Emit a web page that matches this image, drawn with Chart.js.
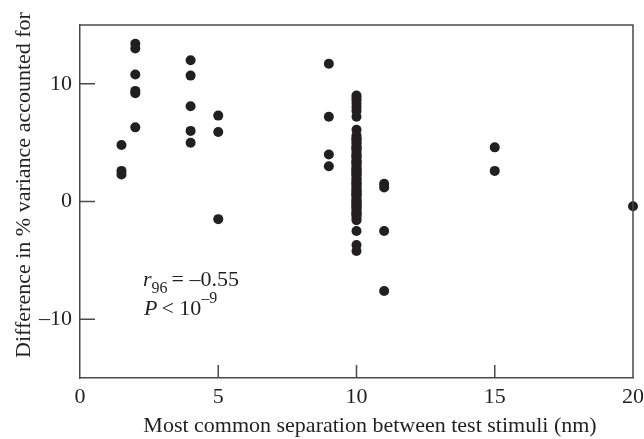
<!DOCTYPE html>
<html>
<head>
<meta charset="utf-8">
<script src="https://cdn.jsdelivr.net/npm/chart.js@4.4.1/dist/chart.umd.min.js"></script>
<style>
  html, body { margin: 0; padding: 0; background: #fff; }
  #chart { display: block; }
</style>
</head>
<body>
<canvas id="chart" width="644" height="439"></canvas>
<script>
// separation (nm) -> differences in % variance accounted for
const sep1_5 = [4.8, 2.6, 2.3];
const sep2 = [13.4, 13.0, 10.8, 9.4, 9.2, 6.3];
const sep4 = [12.0, 10.7, 8.1, 6.0, 5.0];
const sep5 = [7.3, 5.9, -1.5];
const sep9 = [11.7, 7.2, 4.0, 3.0];
const sep10 = [
  9.0, 8.8, 8.6, 8.3, 8.0, 7.7, 7.2, 6.1, 5.6, 5.4, 5.3, 5.2, 5.0, 4.9,
  4.7, 4.6, 4.5, 4.4, 4.2, 4.0, 3.9, 3.8, 3.7, 3.5, 3.4, 3.3, 3.2, 3.1,
  2.9, 2.8, 2.7, 2.6, 2.5, 2.4, 2.3, 2.2, 2.0, 1.9, 1.7, 1.6, 1.5, 1.4,
  1.3, 1.1, 1.0, 0.9, 0.8, 0.7, 0.6, 0.5, 0.4, 0.2, 0.1, 0.0, -0.1, -0.2,
  -0.3, -0.4, -0.5, -0.6, -0.8, -0.9, -1.0, -1.1, -1.2, -1.4, -1.6, -2.5,
  -3.7, -4.2
];
const sep11 = [1.5, 1.2, -2.5, -7.6];
const sep15 = [4.6, 2.6];
const sep20 = [-0.4];

const groups = [
  [1.5, sep1_5], [2, sep2], [4, sep4], [5, sep5], [9, sep9],
  [10, sep10], [11, sep11], [15, sep15], [20, sep20]
];

const xTicks = [0, 5, 10, 15, 20];
const yTicks = [-10, 0, 10];

const xTitle = 'Most common separation between test stimuli (nm)';
const yTitle = 'Difference in % variance accounted for';

const points = [];
groups.forEach(([sep, vals]) => {
  vals.forEach(v => points.push({ x: sep, y: v }));
});

const serif = '"Liberation Serif", "DejaVu Serif", serif';
const axisColor = '#4a4a4a';
const inkColor = '#231f20';
const fontSize = 22;

// box, inward tick marks, axis titles and the r/P annotation
const framePlugin = {
  id: 'frame',
  afterDraw(chart) {
    const ctx = chart.ctx;
    const a = chart.chartArea;
    const xs = chart.scales.x, ys = chart.scales.y;
    ctx.save();
    ctx.strokeStyle = axisColor;
    ctx.lineWidth = 1.5;
    ctx.beginPath();
    ctx.moveTo(a.left, a.top); ctx.lineTo(a.right, a.top);
    ctx.lineTo(a.right, a.bottom);
    ctx.stroke();

    ctx.beginPath();
    xTicks.forEach(v => {
      const px = xs.getPixelForValue(v);
      if (v > 0 && v < 20) { ctx.moveTo(px, a.bottom); ctx.lineTo(px, a.bottom - 13); }
    });
    yTicks.forEach(v => {
      const py = ys.getPixelForValue(v);
      ctx.moveTo(a.left, py); ctx.lineTo(a.left + 15, py);
    });
    ctx.stroke();

    ctx.fillStyle = inkColor;
    ctx.font = fontSize + 'px ' + serif;
    ctx.textAlign = 'center';
    ctx.textBaseline = 'alphabetic';
    ctx.fillText(xTitle, 370, 432);

    ctx.save();
    ctx.translate(30, 185);
    ctx.rotate(-Math.PI / 2);
    ctx.fillText(yTitle, 0, 0);
    ctx.restore();

    // r96 = –0.55
    ctx.textAlign = 'left';
    let x = 143;
    ctx.font = 'italic ' + fontSize + 'px ' + serif;
    ctx.fillText('r', x, 286);
    x += ctx.measureText('r').width;
    ctx.font = '16px ' + serif;
    ctx.fillText('96', x, 293);
    x += ctx.measureText('96').width + 4;
    ctx.font = fontSize + 'px ' + serif;
    ctx.fillText('= \u20130.55', x, 286);

    // P < 10^-9
    x = 144;
    ctx.font = 'italic ' + fontSize + 'px ' + serif;
    ctx.fillText('P', x, 315);
    x += ctx.measureText('P').width + 4;
    ctx.font = fontSize + 'px ' + serif;
    ctx.fillText('< 10', x, 315);
    x += ctx.measureText('< 10').width;
    ctx.font = '16px ' + serif;
    ctx.fillText('\u20139', x, 303);
    ctx.restore();
  }
};

new Chart(document.getElementById('chart'), {
  type: 'scatter',
  data: {
    datasets: [{
      data: points,
      backgroundColor: inkColor,
      borderColor: inkColor,
      pointRadius: 5,
      pointHoverRadius: 5,
      borderWidth: 0
    }]
  },
  options: {
    responsive: false,
    animation: false,
    devicePixelRatio: 1,
    clip: false,
    layout: { padding: { top: 25, right: 11, left: 0, bottom: 0 } },
    plugins: { legend: { display: false }, tooltip: { enabled: false } },
    scales: {
      x: {
        type: 'linear',
        min: 0,
        max: 20,
        afterBuildTicks: s => { s.ticks = xTicks.map(v => ({ value: v })); },
        afterFit: s => { s.height = 61; s.paddingLeft = 0; s.paddingRight = 0; },
        ticks: { color: inkColor, font: { family: serif, size: fontSize }, padding: 6 },
        grid: { drawOnChartArea: false, drawTicks: false },
        border: { color: axisColor, width: 1.5 }
      },
      y: {
        type: 'linear',
        min: -15,
        max: 15,
        afterBuildTicks: s => { s.ticks = yTicks.map(v => ({ value: v })); },
        afterFit: s => { s.width = 80; s.paddingTop = 0; s.paddingBottom = 0; },
        ticks: {
          color: inkColor,
          font: { family: serif, size: fontSize },
          padding: 8,
          callback: v => v < 0 ? '\u2013' + Math.abs(v) : String(v)
        },
        grid: { drawOnChartArea: false, drawTicks: false },
        border: { color: axisColor, width: 1.5 }
      }
    }
  },
  plugins: [framePlugin]
});
</script>
</body>
</html>
